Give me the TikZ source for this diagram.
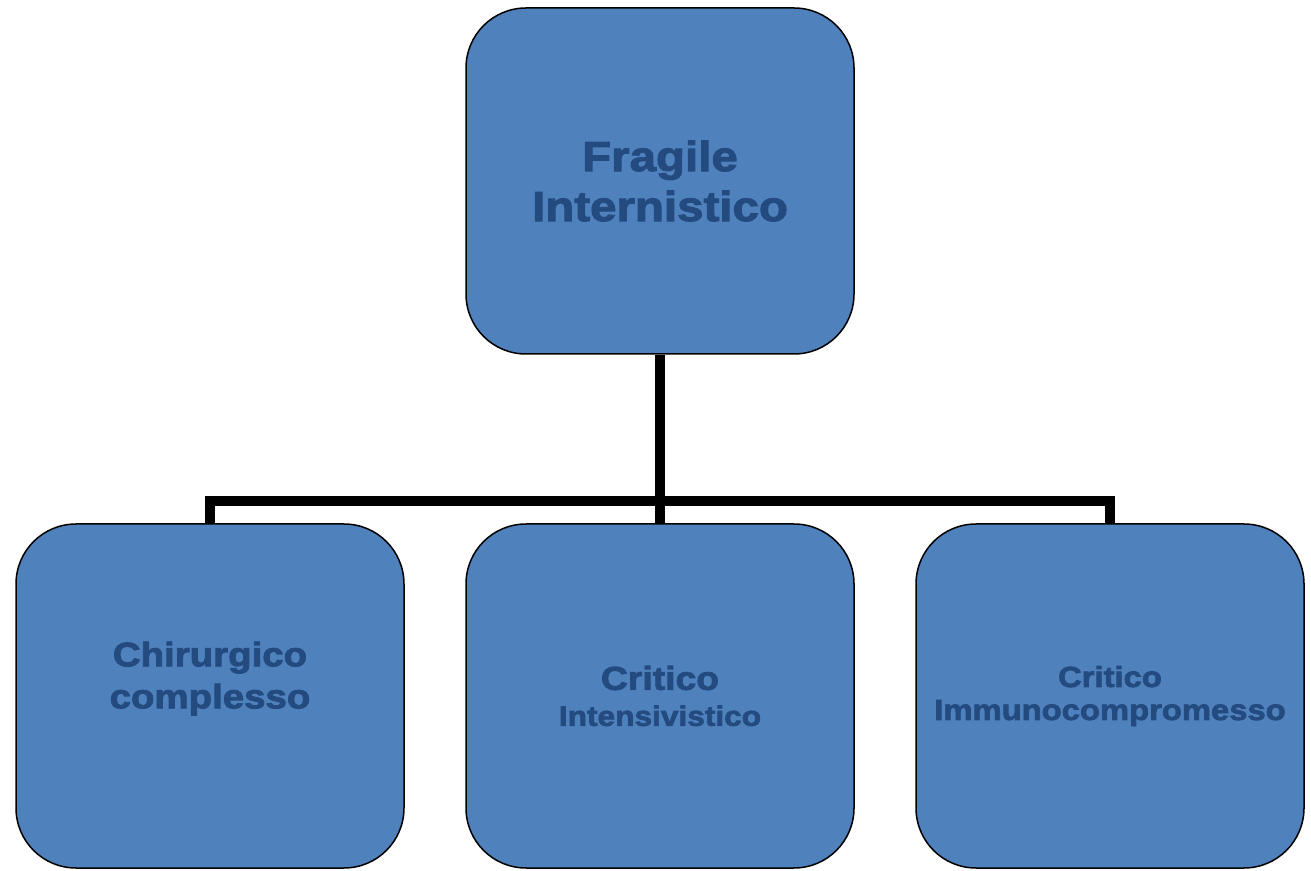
\documentclass[tikz,border=0pt]{standalone}
\usepackage{fontspec}
\newfontfamily\boxfont{Liberation Sans Bold}[FakeStretch=1.13,FakeBold=2.5]
\usetikzlibrary{positioning, calc}
\definecolor{boxfill}{RGB}{79,129,189}
\definecolor{boxtext}{RGB}{35,75,128}

\begin{document}
\begin{tikzpicture}[x=1pt, y=1pt,
        block/.style={draw=black, line width=1.5pt, fill=boxfill, rounded corners=60pt,
            minimum width=388pt, minimum height=344pt, inner sep=0pt,
            align=center, text=boxtext},
        link/.style={line width=10pt, line join=miter}]
    \useasboundingbox (0, 0) rectangle (1311, 870);

    \node[block, minimum height=346pt, font=\boxfont\fontsize{42}{50}\selectfont]
        (frag) at (660, 689) {Fragile\\Internistico}; % top
    \node[block, font=\boxfont\fontsize{34}{42}\selectfont]
        (chir) at (210, 174) {Chirurgico\\complesso\\\mbox{}}; % left
    \node[block, font=\boxfont\fontsize{33}{36}\selectfont]
        (inte) at (660, 174) {Critico\\{\fontsize{28}{36}\selectfont Intensivistico}}; % middle
    \node[block, font=\boxfont\fontsize{29}{33}\selectfont]
        (immu) at (1110, 174) {Critico\\Immunocompromesso}; % right

    \coordinate (bus) at (660, 369);

    \draw[link] (frag.south) -- (inte.north);
    \draw[link] (chir.north) -- (chir.north |- bus) -- (immu.north |- bus) -- (immu.north);
\end{tikzpicture}
\end{document}
